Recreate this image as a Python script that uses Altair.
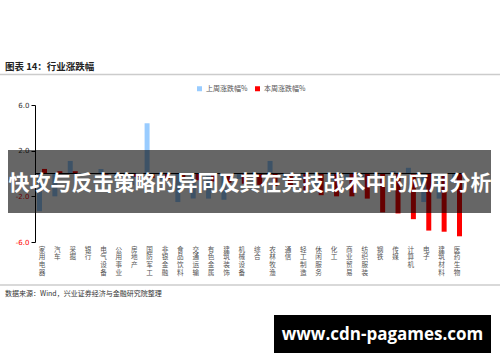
import altair as alt
import pandas as pd

categories = ["家用电器", "汽车", "采掘", "银行", "电气设备", "公用事业", "房地产", "国防军工",
              "非银金融", "食品饮料", "交通运输", "有色金属", "建筑装饰", "机械设备", "综合",
              "农林牧渔", "通信", "轻工制造", "休闲服务", "化工", "商业贸易", "纺织服装",
              "钢铁", "传媒", "计算机", "电子", "建筑材料", "医药生物"]
last_week = [-3.3, -2.0, 1.1, -0.2, 0.4, -0.3, -1.0, 4.4, -0.5, -2.5, -2.2, -2.2, -2.3, -0.5,
             0.1, 1.1, -0.3, -0.5, -1.0, -0.6, -0.5, -0.4, -0.3, 0.2, 0.5, -2.5, -2.2, -0.8]
this_week = [0.4, 0.2, 0.2, 0.0, -0.1, -0.2, -0.3, -0.4, -0.5, -0.5, -0.6, -0.7, -0.8, -0.9,
             -1.0, -1.1, -1.2, -1.5, -1.9, -2.0, -2.0, -2.2, -3.4, -3.5, -4.0, -5.0, -5.1, -5.5]
series_names = ["上周涨跌幅%", "本周涨跌幅%"]
series_colors = ["#99CCFF", "#FF0000"]
y_ticks = [-6, -4, -2, 0, 2, 4, 6]

title_text = "图表 14：行业涨跌幅"
source_text = "数据来源：Wind，兴业证券经济与金融研究院整理"
banner_text = "快攻与反击策略的异同及其在竞技战术中的应用分析"
watermark_text = "www.cdn-pagames.com"

rows = []
for c, a, b in zip(categories, last_week, this_week):
    rows.append({"category": c, "series": series_names[0], "value": a})
    rows.append({"category": c, "series": series_names[1], "value": b})
df = pd.DataFrame(rows)

FONT = "Noto Sans CJK SC"

bars = alt.Chart(df).mark_bar().encode(
    x=alt.X("category:N", sort=categories,
            scale=alt.Scale(paddingInner=0.35, paddingOuter=0.13),
            axis=alt.Axis(title=None, labelAngle=0, labelExpr="split(datum.label, '')",
                          labelFont=FONT, labelFontSize=6.6, labelLineHeight=7.8,
                          labelBaseline="top", labelPadding=4, domain=False, ticks=False,
                          labelColor="#555555", labelOverlap=False)),
    xOffset=alt.XOffset("series:N", sort=series_names,
                        scale=alt.Scale(paddingInner=0, paddingOuter=0)),
    y=alt.Y("value:Q", scale=alt.Scale(domain=[-6, 6], nice=False),
            axis=alt.Axis(title=None, values=y_ticks, grid=False,
                          labelExpr="(datum.value < 0 ? '-' : '') + format(abs(datum.value), '.1f')",
                          labelColor=alt.ExprRef(expr="datum.value < 0 ? '#FF0000' : '#333333'"),
                          labelFont="DejaVu Sans", labelFontSize=7, labelPadding=2,
                          tickSize=4, tickColor="black", domainColor="black")),
    color=alt.Color("series:N", scale=alt.Scale(domain=series_names, range=series_colors),
                    legend=alt.Legend(orient="none", legendX=161, legendY=-20,
                                      direction="horizontal", title=None,
                                      symbolType="square", symbolSize=25, symbolStrokeWidth=0,
                                      labelFont=FONT, labelFontSize=7, labelColor="#555555",
                                      labelOffset=3, columnPadding=6, padding=0)),
)

zero = alt.Chart(pd.DataFrame({"z": [0]})).mark_rule(color="black", strokeWidth=1).encode(
    y=alt.Y("z:Q"))

def one(text):
    return pd.DataFrame({"t": [text]})

title = alt.Chart(one(title_text)).mark_text(
    font=FONT, fontSize=9.5, fontWeight="bold", color="#222222", align="left", baseline="middle"
).encode(x=alt.value(-30), y=alt.value(-38), text="t:N")

top_line = alt.Chart(one("a")).mark_rule(color="#CCCCCC", strokeWidth=1.5).encode(
    x=alt.value(-35), x2=alt.value(465), y=alt.value(-30.5))

bottom_line = alt.Chart(one("a")).mark_rule(color="#CCCCCC", strokeWidth=1.5).encode(
    x=alt.value(-35), x2=alt.value(465), y=alt.value(180))

source = alt.Chart(one(source_text)).mark_text(
    font=FONT, fontSize=7, color="#333333", align="left", baseline="middle"
).encode(x=alt.value(-30), y=alt.value(188.5), text="t:N")

banner_rect = alt.Chart(one("a")).mark_rect(color="black", opacity=0.6).encode(
    x=alt.value(-27), x2=alt.value(456), y=alt.value(45), y2=alt.value(108))

banner = alt.Chart(one(banner_text)).mark_text(
    font=FONT, fontSize=21, fontWeight="bold", color="white", align="center", baseline="middle"
).encode(x=alt.value(215), y=alt.value(79), text="t:N")

wm_rect = alt.Chart(one("a")).mark_rect(color="black").encode(
    x=alt.value(239), x2=alt.value(456), y=alt.value(210), y2=alt.value(248))

wm = alt.Chart(one(watermark_text)).mark_text(
    font="Open Sans", fontSize=17, fontWeight="bold", color="white", align="center", baseline="middle"
).encode(x=alt.value(347.5), y=alt.value(230), text="t:N")

chart = alt.layer(bars, zero, title, top_line, bottom_line, source,
                  banner_rect, banner, wm_rect, wm).resolve_scale(y="shared").properties(
    width=429, height=137,
    autosize=alt.AutoSizeParams(type="none"),
    padding={"left": 35, "top": 105, "right": 36, "bottom": 120},
    background="white",
).configure_view(stroke=None)

chart.save("out.html", embed_options={"renderer": "svg", "actions": False})
